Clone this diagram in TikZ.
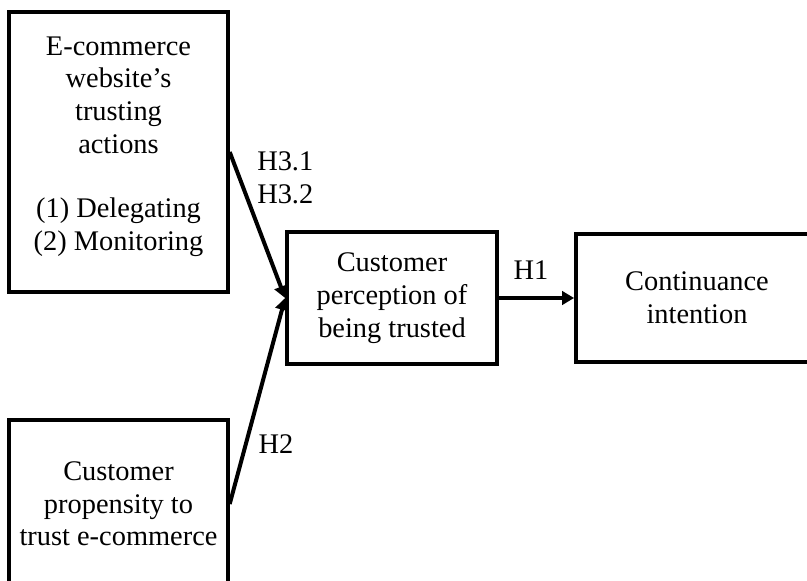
\documentclass[tikz,border=0pt]{standalone}
\usepackage{fontspec}
\setmainfont{Liberation Serif}
\usetikzlibrary{arrows.meta, positioning}

\tikzset{
  construct/.style={draw, line width=2.8pt, align=center, inner sep=0pt},
  link/.style={line width=3pt, -{Triangle[length=9pt, width=10pt]}},
  hyp/.style={inner sep=0pt, align=left}
}

\begin{document}
\begin{tikzpicture}[x=0.75pt, y=-0.75pt, font=\fontsize{21.3pt}{24.5pt}\selectfont]
    \clip (0,0) rectangle (807,581);

    \node[construct, minimum width=164pt, minimum height=210pt] (web) at (118.5,152)
        {E-commerce\\website's\\trusting\\actions\\[24pt](1) Delegating\\(2) Monitoring\\[-12pt]\mbox{}};
    \node[construct, minimum width=157.5pt, minimum height=99pt] (perc) at (392,298)
        {Customer\\perception of\\being trusted};
    \node[construct, minimum width=181.5pt, minimum height=96pt] (cont) at (697,298)
        {Continuance\\intention};
    \node[construct, minimum width=164pt, minimum height=126pt] (prop) at (118.5,504)
        {Customer\\propensity to\\trust e-commerce};

    \draw[link] (web.east) -- (perc.west);
    \draw[link] (prop.east) -- (perc.west);
    \draw[link] (perc.east) -- (cont.west);

    \node[hyp, anchor=west] (h3) at (257,178) {H3.1\\H3.2};
    \node[hyp] (h1) at (531,270) {H1};
    \node[hyp] (h2) at (276,444) {H2};
\end{tikzpicture}
\end{document}
